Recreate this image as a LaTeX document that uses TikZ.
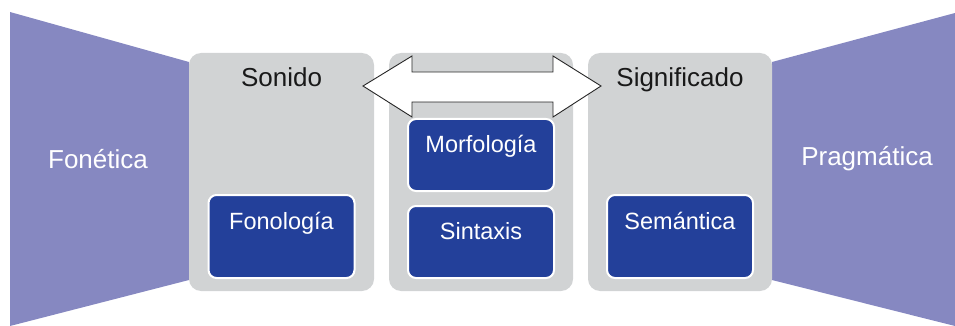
\documentclass[tikz,border=0pt]{standalone}
\usepackage{fontspec}
\setmainfont{Liberation Sans}
\usetikzlibrary{positioning}
\definecolor{lila}{RGB}{134,136,193}
\definecolor{gris}{RGB}{209,211,212}
\definecolor{azul}{RGB}{35,64,154}
\tikzset{
    nivel/.style={rectangle, rounded corners=12pt, fill=gris, inner sep=0pt, minimum width=184pt,
      text height=34pt, text depth=204pt, font=\fontsize{26}{30}\selectfont, text=black!90},
    rama/.style={rectangle, rounded corners=8pt, fill=azul, draw=white, line width=2pt, inner sep=0pt,
      minimum width=146pt, text=white, font=\fontsize{23.5}{28}\selectfont},
    alta/.style={text height=34pt, text depth=49pt},
    baja/.style={text height=33pt, text depth=39pt},
    fase/.style={fill=lila},
    etiqueta/.style={text=white, font=\fontsize{26}{30}\selectfont},
    flecha/.style={fill=white, draw=black!85, line width=0.9pt, line join=miter}
}
\begin{document}
\begin{tikzpicture}[x=1pt, y=-1pt]
    \useasboundingbox (0,0) rectangle (955,326);
    % extremos
    \fill[fase] (10,12) -- (189,62) -- (189,280) -- (10,326) -- cycle;
    \fill[fase] (955,13) -- (772,62) -- (772,280) -- (955,326) -- cycle;
    \node[etiqueta] (fonetica) at (98,159) {Fonética};
    \node[etiqueta] (pragmatica) at (867,159) {Pragmática};

    \node[nivel, minimum width=185pt] (sonido) at (281.5,172) {Sonido};
    \node[nivel] (forma) at (481,172) {};
    \node[nivel] (significado) at (680,172) {Significado};

    \node[rama, alta] (fonologia) at (281.5,236.5) {Fonología};
    \node[rama, baja] (morfologia) at (481,155) {Morfología};
    \node[rama, baja, below=13pt of morfologia] (sintaxis) {Sintaxis};
    \node[rama, alta] (semantica) at (680,236.5) {Semántica};

    % doble flecha
    \draw[flecha] (363,86) -- (412,56) -- (412,72) -- (553,72) -- (553,56) -- (601,86)
      -- (553,117) -- (553,102) -- (412,102) -- (412,117) -- cycle;
\end{tikzpicture}
\end{document}
